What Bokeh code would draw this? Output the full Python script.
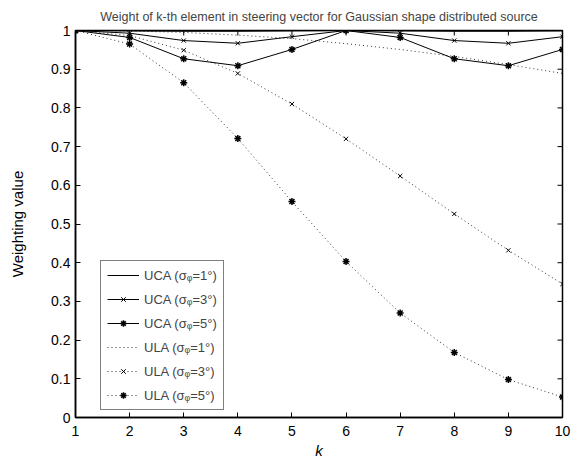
from bokeh.plotting import figure
from bokeh.models import FixedTicker, Legend, LegendItem, Range1d
from bokeh.embed import file_html
from bokeh.resources import INLINE

k = [1, 2, 3, 4, 5, 6, 7, 8, 9, 10]
uca1 = [1.0, 0.999, 0.998, 0.998, 0.999, 1.0, 0.999, 0.998, 0.998, 0.999]
uca3 = [1.0, 0.993, 0.974, 0.967, 0.984, 1.0, 0.993, 0.974, 0.967, 0.984]
uca5 = [1.0, 0.982, 0.927, 0.909, 0.951, 1.0, 0.982, 0.927, 0.909, 0.951]
ula1 = [1.0, 0.999, 0.995, 0.988, 0.979, 0.966, 0.951, 0.933, 0.912, 0.889]
ula3 = [1.0, 0.987, 0.949, 0.889, 0.810, 0.720, 0.624, 0.526, 0.432, 0.345]
ula5 = [1.0, 0.965, 0.865, 0.721, 0.558, 0.403, 0.270, 0.168, 0.098, 0.053]
yticks = [0, 0.1, 0.2, 0.3, 0.4, 0.5, 0.6, 0.7, 0.8, 0.9, 1]
ylabels = {0: "0", 0.1: "0.1", 0.2: "0.2", 0.3: "0.3", 0.4: "0.4", 0.5: "0.5",
           0.6: "0.6", 0.7: "0.7", 0.8: "0.8", 0.9: "0.9", 1: "1"}

FONT = "Liberation Sans"

p = figure(width=585, height=461, output_backend="svg", toolbar_location=None,
           x_range=Range1d(1, 10), y_range=Range1d(0, 1),
           min_border_left=75, min_border_right=23, min_border_top=30, min_border_bottom=44)
p.title.text = "Weight of k-th element in steering vector for Gaussian shape distributed source"
p.title.text_font = FONT
p.title.text_font_size = "12.5px"
p.title.text_font_style = "normal"
p.title.align = "center"
p.title.offset = 0
p.title.standoff = 13

p.grid.visible = False
p.outline_line_color = "black"
p.outline_line_width = 1.5
p.background_fill_color = "white"
p.border_fill_color = "white"

for ax in p.xaxis:
    ax.ticker = FixedTicker(ticks=k)
for ax in p.yaxis:
    ax.ticker = FixedTicker(ticks=yticks)
    ax.major_label_overrides = ylabels

for ax in list(p.xaxis) + list(p.yaxis):
    ax.major_tick_in = 5
    ax.major_tick_out = 0
    ax.minor_tick_line_color = None
    ax.axis_line_color = "black"
    ax.axis_line_width = 1.5
    ax.major_tick_line_color = "black"
    ax.major_label_text_font = FONT
    ax.major_label_text_font_size = "14px"
    ax.major_label_text_color = "black"
    ax.axis_label_text_font = FONT
    ax.axis_label_text_font_size = "15px"
    ax.axis_label_text_color = "black"

p.xaxis.axis_label = "k"
p.xaxis.axis_label_text_font_style = "italic"
p.xaxis.axis_label_standoff = 3
p.xaxis.major_label_standoff = 8
p.yaxis.axis_label = "Weighting value"
p.yaxis.axis_label_text_font_style = "normal"
p.yaxis.axis_label_standoff = 22
p.yaxis.major_label_standoff = 5

# inward ticks on top and right edges (MATLAB box style)
p.segment(x0=k, y0=[1] * len(k), x1=k, y1=[1 - 0.013] * len(k), line_color="black", line_width=1)
p.segment(x0=[10] * len(yticks), y0=yticks, x1=[10 - 0.092] * len(yticks), y1=yticks,
          line_color="black", line_width=1)

r1 = p.line(k, uca1, line_color="black", line_width=1)
r3 = p.line(k, uca3, line_color="black", line_width=1)
m3 = p.scatter(k, uca3, marker="x", size=6, line_color="black")
r5 = p.line(k, uca5, line_color="black", line_width=1)
m5 = p.scatter(k, uca5, marker="asterisk", size=7, line_color="black", line_width=1.5)

q1 = p.line(k, ula1, line_color="black", line_width=1, line_dash="1 3", line_alpha=0.8)
q3 = p.line(k, ula3, line_color="black", line_width=1, line_dash="1 3", line_alpha=0.8)
n3 = p.scatter(k, ula3, marker="x", size=6, line_color="black")
q5 = p.line(k, ula5, line_color="black", line_width=1, line_dash="1 3", line_alpha=0.8)
n5 = p.scatter(k, ula5, marker="asterisk", size=7, line_color="black", line_width=1.5)

legend = Legend(items=[
    LegendItem(label="UCA (σᵩ=1°)", renderers=[r1]),
    LegendItem(label="UCA (σᵩ=3°)", renderers=[r3, m3]),
    LegendItem(label="UCA (σᵩ=5°)", renderers=[r5, m5]),
    LegendItem(label="ULA (σᵩ=1°)", renderers=[q1]),
    LegendItem(label="ULA (σᵩ=3°)", renderers=[q3, n3]),
    LegendItem(label="ULA (σᵩ=5°)", renderers=[q5, n5]),
], location=(25, 7))
legend.label_text_font = FONT
legend.label_text_font_size = "13px"
legend.border_line_color = "black"
legend.border_line_width = 1
legend.glyph_width = 32
legend.glyph_height = 16
legend.label_height = 16
legend.spacing = 8
legend.padding = 6
legend.margin = 0
legend.label_standoff = 5
legend.background_fill_alpha = 1
p.add_layout(legend)

open("out.html", "w").write(file_html(p, INLINE))
